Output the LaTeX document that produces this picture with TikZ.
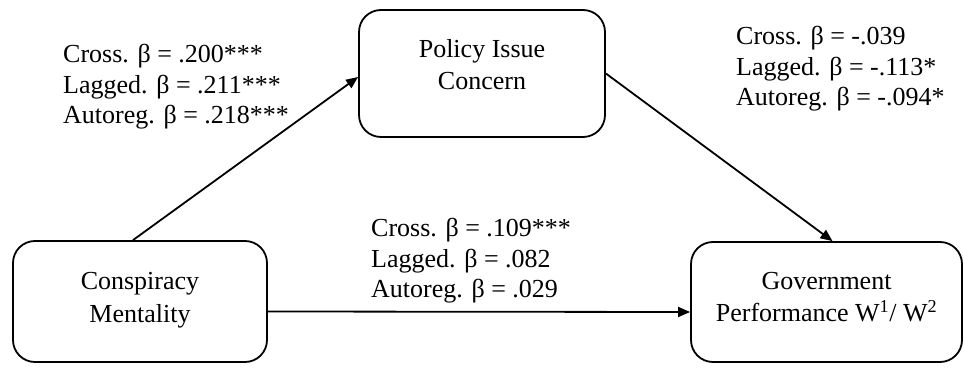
\documentclass[tikz,border=0pt]{standalone}
\usepackage{fontspec}
\setmainfont{Liberation Serif}
\usetikzlibrary{arrows.meta}

\begin{document}
\begin{tikzpicture}[
  x=1pt,y=1pt,
  font=\fontsize{26}{30.5}\selectfont,
  box/.style={draw,rounded corners=22pt,line width=1.8pt,inner sep=0pt},
  boxtext/.style={align=center,inner sep=0pt,font=\fontsize{26}{32.5}\selectfont},
  coef/.style={align=left,anchor=base west,inner sep=0pt},
  flow/.style={-{Triangle[length=12pt,width=10pt]},line width=1.8pt},
]
\useasboundingbox (0,0) rectangle (964,372);

% ---------- the three constructs ----------
\node[box,minimum width=254pt,minimum height=121pt] (cm) at (140,70.5) {};
\node[box,minimum width=246pt,minimum height=127pt] (pic) at (482,298.5) {};
\node[box,minimum width=271pt,minimum height=120pt] (gov) at (826.5,70) {};
\node[boxtext] (cmtext) at ([yshift=1.5]cm.center) {Conspiracy\\Mentality};
\node[boxtext] (pictext) at ([yshift=9]pic.center) {Policy Issue\\Concern};
\node[boxtext] (govtext) at ([yshift=5]gov.center)
  {Government\\Performance W\textsuperscript{1}/ W\textsuperscript{2}};

% ---------- paths ----------
\draw[flow] ([xshift=-7]cm.north) -- ([yshift=-3.5]pic.west);
\draw[flow] (pic.east) -- ([xshift=6]gov.north);
\draw[flow] ([yshift=-10]cm.east) -- ([yshift=-10]gov.west);

% ---------- coefficients (anchored at last line) ----------
\node[coef] (acoef) at (63,248)
  {Cross. β = .200***\\Lagged. β = .211***\\Autoreg. β = .218***};
\node[coef] (bcoef) at (736,266)
  {Cross. β = -.039\\Lagged. β = -.113*\\Autoreg. β = -.094*};
\node[coef] (ccoef) at (371,74)
  {Cross. β = .109***\\Lagged. β = .082\\Autoreg. β = .029};

\end{tikzpicture}
\end{document}
